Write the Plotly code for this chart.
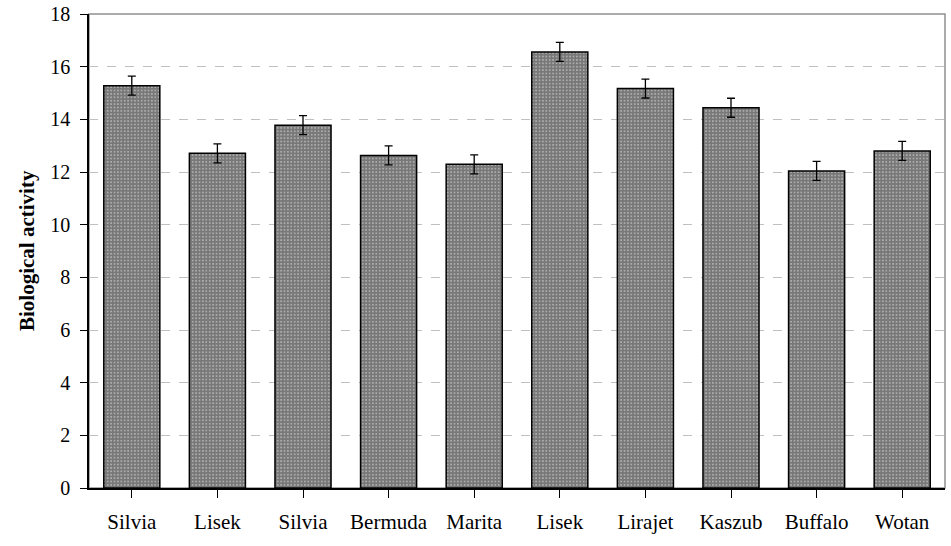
import plotly.graph_objects as go

cultivars = ['Silvia', 'Lisek', 'Silvia', 'Bermuda', 'Marita', 'Lisek', 'Lirajet', 'Kaszub', 'Buffalo', 'Wotan']
activity = [15.28, 12.71, 13.78, 12.63, 12.29, 16.56, 15.17, 14.44, 12.04, 12.80]
errors = [0.36, 0.36, 0.36, 0.36, 0.36, 0.36, 0.36, 0.36, 0.36, 0.36]
y_ticks = [0, 2, 4, 6, 8, 10, 12, 14, 16, 18]

# duplicate names, so use positions and put the names on as tick labels
positions = list(range(len(cultivars)))

fig = go.Figure()
fig.add_trace(go.Bar(x=positions, y=activity,
                     marker=dict(color='#7f7f7f', line=dict(color='black', width=1.5),
                                 pattern=dict(shape='.', fgcolor='white', bgcolor='#787878',
                                              size=3.4, solidity=0.2)),
                     error_y=dict(type='data', array=errors, color='black', thickness=1.3, width=4),
                     showlegend=False))

# grey frame on top and right of the plot area
fig.add_shape(type='rect', xref='paper', yref='paper', x0=0, y0=0, x1=1, y1=1,
              line=dict(color='#909090', width=1.5), layer='below')

# y title as annotation so it can sit where the original has it
fig.add_annotation(text='<b>Biological activity</b>', xref='paper', yref='paper', x=0, y=0.5,
                   xanchor='center', yanchor='middle', xshift=-62, textangle=-90, showarrow=False,
                   font=dict(size=21, family='Liberation Serif', color='black'))

fig.update_layout(width=951, height=546, plot_bgcolor='white', paper_bgcolor='white',
                  margin=dict(l=89, r=6, t=14, b=58), bargap=0.345,
                  font=dict(family='Liberation Serif', size=21, color='black'))
fig.update_xaxes(tickmode='array', tickvals=positions, ticktext=cultivars, range=[-0.5, 9.5],
                 showline=True, linecolor='black', linewidth=1.5, ticks='outside', ticklen=8,
                 tickcolor='black', tickson='boundaries', showgrid=False, automargin=False,
                 ticklabelstandoff=6,
                 tickfont=dict(size=21, family='Liberation Serif'))
fig.update_yaxes(range=[0, 18], tickvals=y_ticks, showline=True, linecolor='black', linewidth=1.5,
                 ticks='outside', ticklen=7, tickcolor='black', showgrid=True, gridcolor='#c0c0c0',
                 griddash='dash', gridwidth=1, zeroline=False, automargin=False,
                 ticklabelstandoff=6, ticklabeloverflow='allow',
                 tickfont=dict(size=20, family='Liberation Serif'))

# drop the page's default body margin so the figure starts at the top-left corner
fig.write_html("out.html", config={'displayModeBar': False},
               post_script="document.body.style.margin = '0';")
